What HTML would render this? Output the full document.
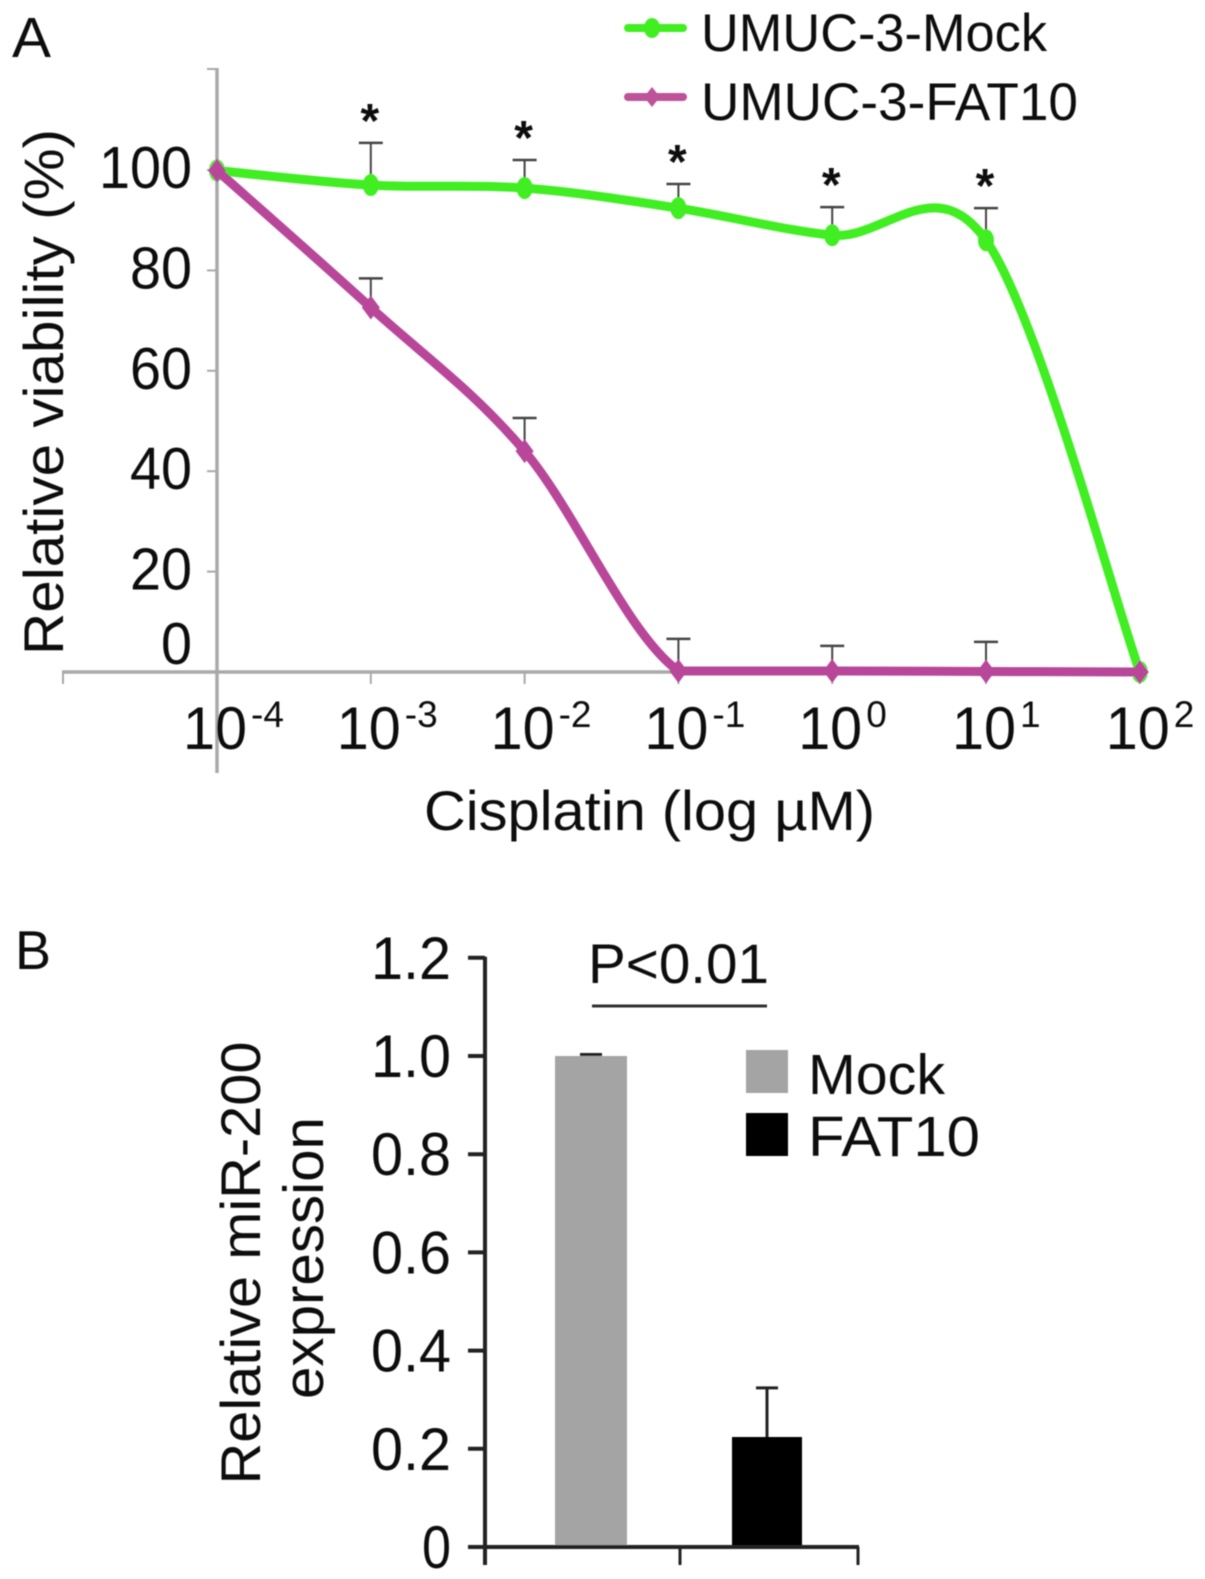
<!DOCTYPE html>
<html>
<head>
<meta charset="utf-8">
<style>
html,body{margin:0;padding:0;background:#fff;width:1205px;height:1579px;overflow:hidden}
svg{display:block}
text{font-family:"Liberation Sans",sans-serif;fill:#111}
</style>
</head>
<body>
<svg id="figure" width="1205" height="1579" viewBox="0 0 1205 1579" xmlns="http://www.w3.org/2000/svg">
  <g id="root" filter="url(#soft)">
    <text x="12" y="57" font-size="57" textLength="39" lengthAdjust="spacingAndGlyphs">A</text>
    <text x="15" y="969" font-size="55" textLength="36" lengthAdjust="spacingAndGlyphs">B</text>

    <text transform="translate(63,392) rotate(-90)" text-anchor="middle" font-size="56" textLength="526" lengthAdjust="spacingAndGlyphs">Relative viability (%)</text>
    <text x="424" y="830" font-size="56" textLength="451" lengthAdjust="spacingAndGlyphs">Cisplatin (log µM)</text>

    <g>
      <line x1="628" y1="28" x2="683" y2="28" stroke="#3fee24" stroke-width="8" stroke-linecap="round"/>
      <ellipse cx="652" cy="28" rx="8" ry="10" fill="#3fee24"/>
      <text x="701" y="51" font-size="53" textLength="346" lengthAdjust="spacingAndGlyphs">UMUC-3-Mock</text>
      <line x1="628" y1="97" x2="683" y2="97" stroke="#bd5399" stroke-width="8" stroke-linecap="round"/>
      <polygon points="652,87 660,97 652,107 644,97" fill="#bd5399"/>
      <text x="701" y="120" font-size="53" textLength="377" lengthAdjust="spacingAndGlyphs">UMUC-3-FAT10</text>
    </g>

    <g id="chartA"></g>

    <g id="chartB"></g>

    <text transform="translate(260,1263) rotate(-90)" text-anchor="middle" font-size="56" textLength="443" lengthAdjust="spacingAndGlyphs">Relative miR-200</text>
    <text transform="translate(323,1258) rotate(-90)" text-anchor="middle" font-size="57" textLength="282" lengthAdjust="spacingAndGlyphs">expression</text>

    <text x="588" y="983" font-size="56" textLength="181" lengthAdjust="spacingAndGlyphs">P&lt;0.01</text>
    <line x1="592" y1="1006" x2="767" y2="1006" stroke="#333" stroke-width="3"/>

    <g>
      <rect x="746" y="1050" width="42" height="43" fill="#a4a4a4"/>
      <text x="808" y="1094" font-size="57" textLength="137" lengthAdjust="spacingAndGlyphs">Mock</text>
      <rect x="746" y="1113" width="42" height="43" fill="#050505"/>
      <text x="808" y="1156" font-size="57" textLength="172" lengthAdjust="spacingAndGlyphs">FAT10</text>
    </g>
  </g>
  <defs>
    <filter id="soft" x="0" y="0" width="100%" height="100%" filterUnits="userSpaceOnUse" primitiveUnits="userSpaceOnUse">
      <feGaussianBlur stdDeviation="0.6"/>
    </filter>
  </defs>
</svg>
<script>
// Panel A data
const doseExponents = ["-4", "-3", "-2", "-1", "0", "1", "2"];
const viabilityTicks = [0, 20, 40, 60, 80, 100];
const mockViability = [99.9, 97, 96.4, 92.4, 87, 86, 0];
const mockErrorTop = [99.9, 105.4, 102, 97.2, 92.6, 92.4, 0];
const fat10Viability = [99.9, 72.6, 44, 0.2, 0.2, 0.1, 0];
const fat10ErrorTop = [99.9, 78.4, 50.6, 6.6, 5.2, 6, 0];
const significant = [false, true, true, true, true, true, false];

// Panel B data
const groups = ["Mock", "FAT10"];
const expression = [1.0, 0.224];
const expressionErrorTop = [1.003, 0.324];
const expressionTicks = ["0", "0.2", "0.4", "0.6", "0.8", "1.0", "1.2"];

const NS = "http://www.w3.org/2000/svg";
function make(parent, tag, attrs, content) {
  const node = document.createElementNS(NS, tag);
  for (const key in attrs) node.setAttribute(key, attrs[key]);
  if (content !== undefined) node.textContent = content;
  parent.appendChild(node);
  return node;
}

const chartA = document.getElementById("chartA");
const chartB = document.getElementById("chartB");

// Axis functions, panel A
const xA = i => 217 + i * 153.8;
const yA = v => 672 - 5.02 * v;
// Axis functions, panel B
const yB = v => 1547 - 491 * v;
const xB = i => 591 + i * 176;

const axisGray = "#a9a9a9";
let n;

// Panel A axes
n = make(chartA, "line", {x1: xA(0), y1: 68, x2: xA(0), y2: 773, stroke: axisGray, "stroke-width": 3.5});


n = make(chartA, "line", {x1: 62, y1: yA(0), x2: xA(6), y2: yA(0), stroke: axisGray, "stroke-width": 3.5});


n = make(chartA, "line", {x1: 63, y1: yA(0), x2: 63, y2: 684, stroke: axisGray, "stroke-width": 2});


n = make(chartA, "line", {x1: 207, y1: 69, x2: xA(0), y2: 69, stroke: axisGray, "stroke-width": 2});



viabilityTicks.forEach(v => {
  n = make(chartA, "line", {x1: 207, y1: yA(v), x2: xA(0), y2: yA(v), stroke: axisGray, "stroke-width": 2});
  
  
  const label = String(v);
  n = make(chartA, "text", {x: 192, y: yA(v) + (v === 0 ? -8 : 18), "text-anchor": "end", "font-size": 59,
    textLength: label.length * 31, lengthAdjust: "spacingAndGlyphs"}, label);
  
  
});

doseExponents.forEach((exp, i) => {
  n = make(chartA, "line", {x1: xA(i), y1: yA(0), x2: xA(i), y2: 684, stroke: axisGray, "stroke-width": 2});
  
  
  n = make(chartA, "text", {x: xA(i) - 34, y: 749, "font-size": 60, textLength: 64, lengthAdjust: "spacingAndGlyphs"}, "10");
  
  
  n = make(chartA, "text", {x: xA(i) + 34, y: 727, "font-size": 37}, exp);
  
  
});

// Smooth spline in the style of a spreadsheet smoothed line
function smoothPath(values, clampToSegment) {
  const pts = values.map((v, i) => [xA(i), yA(v)]);
  let d = "M" + pts[0][0] + "," + pts[0][1];
  for (let i = 0; i < pts.length - 1; i++) {
    const p0 = pts[Math.max(i - 1, 0)], p1 = pts[i], p2 = pts[i + 1], p3 = pts[Math.min(i + 2, pts.length - 1)];
    const c1x = p1[0] + (p2[0] - p0[0]) / 6;
    let c1y = p1[1] + (p2[1] - p0[1]) / 6;
    const c2x = p2[0] - (p3[0] - p1[0]) / 6;
    let c2y = p2[1] - (p3[1] - p1[1]) / 6;
    if (clampToSegment) {
      const lo = Math.min(p1[1], p2[1]), hi = Math.max(p1[1], p2[1]);
      c1y = Math.min(hi, Math.max(lo, c1y));
      c2y = Math.min(hi, Math.max(lo, c2y));
    }
    d += " C" + c1x + "," + c1y + " " + c2x + "," + c2y + " " + p2[0] + "," + p2[1];
  }
  return d;
}

// Error bars
function errorBars(tops, values, name) {
  tops.forEach((top, i) => {
    if (top <= values[i]) return;
    n = make(chartA, "line", {x1: xA(i), y1: yA(values[i]), x2: xA(i), y2: yA(top), stroke: "#444", "stroke-width": 2});
    
    
    n = make(chartA, "line", {x1: xA(i) - 12, y1: yA(top), x2: xA(i) + 12, y2: yA(top), stroke: "#444", "stroke-width": 2.5});
    
    
  });
}
errorBars(mockErrorTop, mockViability, "mock");
errorBars(fat10ErrorTop, fat10Viability, "fat10");

// Series lines
n = make(chartA, "path", {d: smoothPath(mockViability, false), fill: "none", stroke: "#3fee24", "stroke-width": 9, "stroke-linejoin": "round"});


mockViability.forEach((v, i) => {
  n = make(chartA, "ellipse", {cx: xA(i), cy: yA(v), rx: 8, ry: 11, fill: "#3fee24"});
  
  
});
n = make(chartA, "path", {d: smoothPath(fat10Viability, true), fill: "none", stroke: "#b8479a", "stroke-width": 9, "stroke-linejoin": "round"});


fat10Viability.forEach((v, i) => {
  const cx = xA(i), cy = yA(v);
  n = make(chartA, "polygon", {points: [cx, cy - 12, cx + 9, cy, cx, cy + 12, cx - 9, cy].join(","), fill: "#b8479a"});
  
  
});

// Significance stars
significant.forEach((flag, i) => {
  if (!flag) return;
  n = make(chartA, "text", {x: xA(i) - 1, y: yA(mockErrorTop[i]) - 6, "text-anchor": "middle", "font-size": 48, "font-weight": "bold"}, "*");
  
  
});

// Panel B bars
const barColors = ["#a4a4a4", "#000000"];
const barWidths = [72, 70];
groups.forEach((g, i) => {
  const cx = xB(i);
  n = make(chartB, "line", {x1: cx, y1: yB(expression[i]), x2: cx, y2: yB(expressionErrorTop[i]), stroke: "#222", "stroke-width": 3});
  
  
  n = make(chartB, "line", {x1: cx - 11, y1: yB(expressionErrorTop[i]), x2: cx + 11, y2: yB(expressionErrorTop[i]), stroke: "#222", "stroke-width": 3});
  
  
  n = make(chartB, "rect", {x: cx - barWidths[i] / 2, y: yB(expression[i]), width: barWidths[i], height: yB(0) - yB(expression[i]), fill: barColors[i]});
  
  
});

// Panel B axes
n = make(chartB, "line", {x1: 485, y1: yB(1.2) - 1, x2: 485, y2: 1565, stroke: "#222", "stroke-width": 4});


n = make(chartB, "line", {x1: 468, y1: yB(0), x2: 859, y2: yB(0), stroke: "#222", "stroke-width": 4});


[680, 858].forEach(x => {
  n = make(chartB, "line", {x1: x, y1: yB(0), x2: x, y2: 1565, stroke: "#222", "stroke-width": 3});
  
  
});
expressionTicks.forEach(label => {
  const v = parseFloat(label);
  n = make(chartB, "line", {x1: 468, y1: yB(v), x2: 485, y2: yB(v), stroke: "#222", "stroke-width": 4});
  
  
  n = make(chartB, "text", {x: 451, y: yB(v) + 21, "text-anchor": "end", "font-size": 60,
    textLength: label.length === 1 ? 29 : 80, lengthAdjust: "spacingAndGlyphs"}, label);
  
  
});
</script>
</body>
</html>
